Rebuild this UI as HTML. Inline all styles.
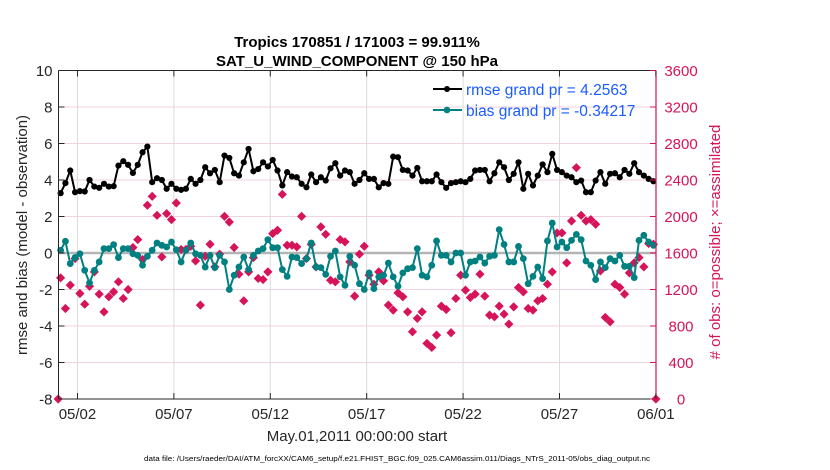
<!DOCTYPE html>
<html><head><meta charset="utf-8"><style>
html,body{margin:0;padding:0;background:#fff;}
svg{display:block;font-family:"Liberation Sans",sans-serif;}
</style></head><body>
<svg id="chart" width="830" height="470" viewBox="0 0 830 470">
<g id="grid"></g>
<g id="marks"></g>
<g id="axes"></g>
<text x="357" y="47" text-anchor="middle" font-size="15" font-weight="bold" fill="#000">Tropics 170851 / 171003 = 99.911%</text>
<text x="357" y="66" text-anchor="middle" font-size="15" font-weight="bold" fill="#000">SAT_U_WIND_COMPONENT @ 150 hPa</text>
<text transform="translate(27,235) rotate(-90)" text-anchor="middle" font-size="15" fill="#262626">rmse and bias (model - observation)</text>
<text transform="translate(720,242) rotate(-90)" text-anchor="middle" font-size="15" fill="#d6145a"># of obs: o=possible; ×=assimilated</text>
<text x="357" y="441" text-anchor="middle" font-size="15" fill="#262626">May.01,2011 00:00:00 start</text>
<text x="144" y="461" font-size="7" fill="#000" textLength="506" lengthAdjust="spacingAndGlyphs">data file: /Users/raeder/DAI/ATM_forcXX/CAM6_setup/f.e21.FHIST_BGC.f09_025.CAM6assim.011/Diags_NTrS_2011-05/obs_diag_output.nc</text>
<g>
<line x1="433" y1="89" x2="462" y2="89" stroke="#000" stroke-width="2"/>
<circle cx="447" cy="89" r="3" fill="#000"/>
<text x="466" y="95" font-size="15.5" fill="#1a5cff">rmse grand pr = 4.2563</text>
<line x1="433" y1="110" x2="462" y2="110" stroke="#008080" stroke-width="2"/>
<circle cx="447" cy="110" r="3.3" fill="#008080"/>
<text x="466" y="116" font-size="15.5" fill="#1a5cff">bias grand pr = -0.34217</text>
</g>
</svg>
<script>
const rmseValues = [3.28,3.83,4.52,3.33,3.39,3.37,4.0,3.64,3.57,3.79,3.64,3.66,4.79,5.03,4.83,4.39,4.83,5.52,5.83,3.88,4.1,4.0,3.52,3.79,3.52,3.46,3.52,4.06,3.79,4.0,4.7,4.37,4.55,3.88,5.34,5.21,4.37,4.24,4.97,5.7,4.48,
4.6,4.97,4.74,5.1,4.52,3.7,4.43,4.19,4.15,3.79,3.6,4.3,3.88,4.15,3.97,4.64,4.92,4.24,4.52,4.43,3.79,4.0,4.37,4.06,4.06,3.6,3.83,3.79,5.28,5.25,4.55,4.52,4.24,4.66,3.93,3.93,3.93,4.3,3.88,3.57,3.83,3.88,3.93,
3.88,4.06,4.52,4.55,4.55,3.93,4.37,4.97,4.7,4.0,4.34,4.97,3.52,4.34,3.7,4.24,4.85,4.43,5.43,4.55,4.43,4.24,4.15,3.88,3.97,3.33,3.33,3.97,4.43,3.79,4.34,4.37,4.15,4.55,4.34,4.92,4.43,4.24,4.06,3.93];
const biasValues = [0.15,0.64,-0.58,-0.25,-0.04,-0.95,-1.64,-0.95,-0.49,0.24,0.24,0.46,-0.25,0.24,0.24,-0.04,-0.13,-0.67,-0.18,0.15,0.55,0.42,0.33,0.6,0.18,-0.49,0.15,0.55,-0.04,-0.13,-0.77,-0.13,-0.8,-0.13,-0.49,-2.0,-1.22,-0.77,-0.22,-0.91,-0.13,
0.11,0.24,0.73,0.29,0.29,-0.91,-1.28,-0.22,-0.25,-0.58,-0.31,0.55,-0.77,-0.8,-1.17,-0.18,0.11,-1.31,-1.77,-0.18,-0.67,-1.68,-2.0,-1.09,-1.95,-1.31,-1.22,-0.55,-1.31,-1.82,-1.09,-0.86,-0.8,0.24,-1.22,-1.31,-0.67,0.66,-0.13,-0.13,-0.49,0,0,
-1.22,-0.49,-0.44,-0.22,-0.55,-0.18,-0.13,1.28,0.47,-0.49,-0.49,0.36,-0.31,-1.68,-1.28,-0.77,-1.4,0.66,1.64,0.33,0.6,0.29,0.69,1.02,0.73,-0.44,-0.67,-1.46,-0.49,-0.8,-0.31,-0.44,-0.13,-0.73,-0.73,-1.35,0.69,0.97,0.6,0.42];
const obsCounts = [1328,992,1248,1539,1156,1039,1236,1393,1149,955,1120,1174,1284,1102,1200,1660,1747,1529,2123,2221,2013,1557,2032,1966,2148,1638,1638,1674,1514,1029,1565,1696,1448,1587,2002,1940,1660,1368,1076,1393,1550,1321,
1309,1393,1813,1849,2243,1685,1685,1667,2002,1539,1696,1448,1886,1805,1302,1284,1747,1722,1503,1127,1587,1674,1357,1258,1393,1295,1029,974,1163,1120,955,737,883,955,609,565,700,1018,981,726,1102,1357,
1193,1112,1149,1368,1127,919,901,1018,930,821,1010,1222,1174,992,974,1076,1102,1258,1393,1820,1820,1492,1951,2535,2013,1951,1966,1915,1404,894,846,1258,1222,1149,1382,1492,1550,1448,1704,1696];
const possibleDays = [0, 31];
const possibleCounts = [0, 0];
const xTickDays = [1,6,11,16,21,26,31];
const xTickLabels = ["05/02","05/07","05/12","05/17","05/22","05/27","06/01"];
const yTicks = [-8,-6,-4,-2,0,2,4,6,8,10];
const y2Ticks = [0,400,800,1200,1600,2000,2400,2800,3200,3600];

const NS = "http://www.w3.org/2000/svg";
const L = 58.5, R = 656, T = 70.5, B = 399;
const dayPx = 19.28, x0 = 58.2;
const x = d => x0 + d * dayPx;
const y = v => T + (10 - v) * (B - T) / 18;
const y2 = c => B - c * (B - T) / 3600;
const dayOf = i => 0.125 + 0.25 * i;
const PINK = "#d6145a";
function mk(tag, attrs, parent){const e=document.createElementNS(NS,tag);for(const k in attrs)e.setAttribute(k,attrs[k]);parent.appendChild(e);return e;}
const grid = document.getElementById('grid'), marks = document.getElementById('marks'), axes = document.getElementById('axes');

y2Ticks.forEach(c=>{
  const g = mk('line',{x1:L,x2:R,y1:y2(c),y2:y2(c),stroke:'#f3d3df','stroke-width':1},grid);
  
  
});
xTickDays.forEach(d=>{
  const g = mk('line',{x1:x(d),x2:x(d),y1:T,y2:B,stroke:'#dcdcdc','stroke-width':1},grid);
  
  
});
const z = mk('line',{x1:L,x2:R,y1:y(0),y2:y(0),stroke:'#b4b4b4','stroke-width':2.5},grid);



function diamond(cx,cy,s){return `${cx},${cy-s} ${cx+s},${cy} ${cx},${cy+s} ${cx-s},${cy}`;}
obsCounts.forEach((c,i)=>{
  const p = mk('polygon',{points:diamond(x(dayOf(i)),y2(c),4.6),fill:PINK},marks);
  
  
});
possibleCounts.forEach((c,i)=>{
  const p = mk('polygon',{points:diamond(x(possibleDays[i]),y2(c),4.6),fill:PINK},marks);
  
  
});

function series(vals,color,r,name){
  const pts = vals.map((v,i)=>x(dayOf(i)).toFixed(2)+','+y(v).toFixed(2)).join(' ');
  const pl = mk('polyline',{points:pts,fill:'none',stroke:color,'stroke-width':2,'stroke-linejoin':'round'},marks);
  
  
  vals.forEach((v,i)=>{
    const c = mk('circle',{cx:x(dayOf(i)),cy:y(v),r:r,fill:color},marks);
    
    
  });
}
series(biasValues,'#008080',3.4,'bias');
series(rmseValues,'#000',3.1,'rmse');

const fl = mk('line',{x1:L,x2:L,y1:T,y2:B,stroke:'#262626','stroke-width':1},axes);
 
const ft = mk('line',{x1:L,x2:R,y1:T,y2:T,stroke:'#262626','stroke-width':1},axes);
 
const fb = mk('line',{x1:L,x2:R,y1:B,y2:B,stroke:'#262626','stroke-width':1},axes);
 
const fr = mk('line',{x1:R,x2:R,y1:T,y2:B,stroke:PINK,'stroke-width':1.2},axes);
 

yTicks.forEach(v=>{
  const t = mk('line',{x1:L,x2:L+6,y1:y(v),y2:y(v),stroke:'#262626'},axes);
   
  const lb = mk('text',{x:L-6,y:y(v)+5.5,'text-anchor':'end','font-size':15,fill:'#262626'},axes);
  lb.textContent = String(v);
   
});
y2Ticks.forEach(c=>{
  const t = mk('line',{x1:R-6,x2:R,y1:y2(c),y2:y2(c),stroke:PINK},axes);
   
  const lb = mk('text',{x:681,y:y2(c)+5.5,'text-anchor':'middle','font-size':15,fill:PINK},axes);
  lb.textContent = String(c);
   
});
xTickDays.forEach((d,i)=>{
  const t = mk('line',{x1:x(d),x2:x(d),y1:B-6,y2:B,stroke:'#262626'},axes);
   
  const t2 = mk('line',{x1:x(d),x2:x(d),y1:T,y2:T+6,stroke:'#262626'},axes);
   
  const lb = mk('text',{x:x(d),y:B+20,'text-anchor':'middle','font-size':15,fill:'#262626'},axes);
  lb.textContent = xTickLabels[i];
   
});
</script>
</body></html>
